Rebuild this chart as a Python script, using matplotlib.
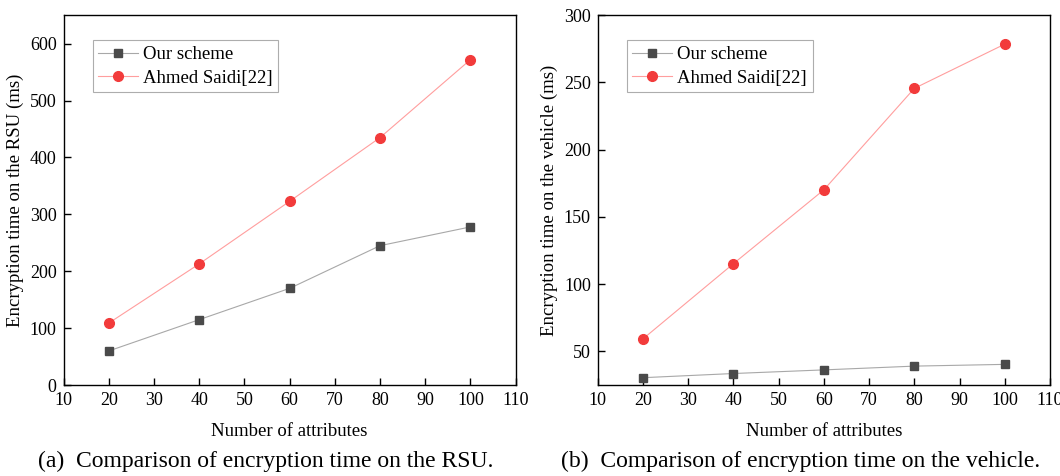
import matplotlib
matplotlib.use('Agg')
import matplotlib.pyplot as plt

plt.rcParams['font.family'] = ['Liberation Serif', 'DejaVu Serif']
plt.rcParams['mathtext.fontset'] = 'stix'

attributes = [20, 40, 60, 80, 100]

# (a) RSU
rsu_ours = [60, 115, 170, 245, 278]
rsu_saidi = [109, 213, 323, 435, 572]

# (b) vehicle
veh_ours = [30.5, 33.6, 36.3, 39.1, 40.4]
veh_saidi = [59.4, 115.3, 170.2, 245.6, 278.5]

labels = ['Our scheme', 'Ahmed Saidi[22]']
xticks = [10, 20, 30, 40, 50, 60, 70, 80, 90, 100, 110]

fig = plt.figure(figsize=(10.6, 4.76), dpi=100)
ax1 = fig.add_axes([0.060, 0.191, 0.4265, 0.777])
ax2 = fig.add_axes([0.564, 0.191, 0.4265, 0.777])


def draw(ax, ours, saidi, ylim, yticks, ylabel):
    ax.plot(attributes, ours, color='#a8a8a8', lw=0.8, marker='s', ms=6,
            mfc='#4a4a4a', mec='#4a4a4a', label=labels[0])
    ax.plot(attributes, saidi, color='#ff9e9e', lw=0.8, marker='o', ms=7,
            mfc='#f23b3b', mec='#f23b3b', label=labels[1])
    ax.set_xlim(10, 110)
    ax.set_ylim(*ylim)
    ax.set_xticks(xticks)
    ax.set_yticks(yticks)
    ax.tick_params(direction='in', length=5, width=1, labelsize=13,
                   top=False, right=False, pad=5)
    for s in ax.spines.values():
        s.set_linewidth(1.0)
    ax.set_xlabel('Number of attributes', fontsize=13.5, labelpad=10)
    ax.set_ylabel(ylabel, fontsize=13.5, labelpad=4)
    leg = ax.legend(loc='upper left', bbox_to_anchor=(0.064, 0.932),
                    borderaxespad=0, fontsize=13.5,
                    frameon=True, fancybox=False, edgecolor='#999999',
                    handlelength=2.1, borderpad=0.3, labelspacing=0.35,
                    handletextpad=0.3)
    leg.get_frame().set_linewidth(0.8)


draw(ax1, rsu_ours, rsu_saidi, (0, 650), [0, 100, 200, 300, 400, 500, 600],
     'Encryption time on the RSU (ms)')
draw(ax2, veh_ours, veh_saidi, (25, 300), [50, 100, 150, 200, 250, 300],
     'Encryption time on the vehicle (ms)')

fig.text(0.251, 0.03, '(a)  Comparison of encryption time on the RSU.',
         ha='center', va='center', fontsize=17)
fig.text(0.755, 0.03, '(b)  Comparison of encryption time on the vehicle.',
         ha='center', va='center', fontsize=17)

fig.savefig('out.png', dpi=100)
